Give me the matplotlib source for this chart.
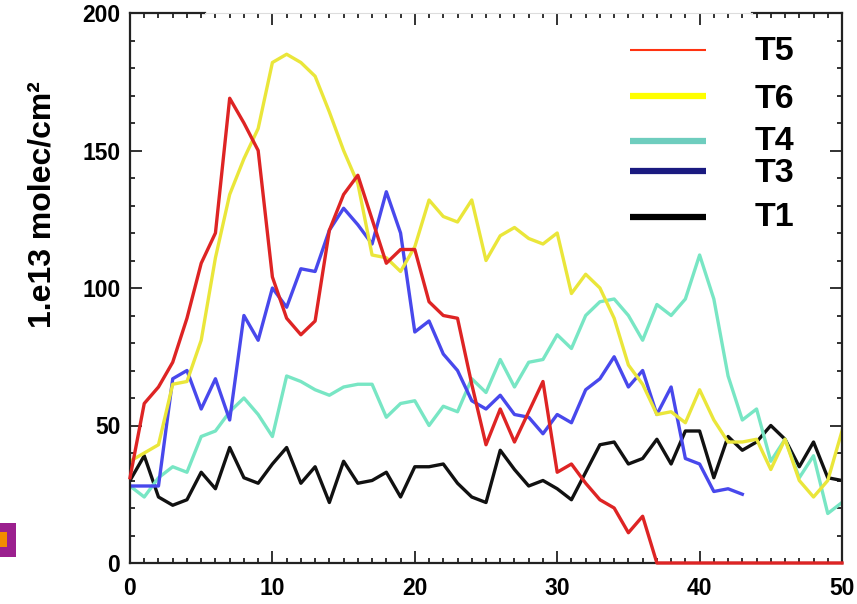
import matplotlib
matplotlib.use("Agg")
import matplotlib.pyplot as plt
from matplotlib.lines import Line2D
from matplotlib.patches import Rectangle
import numpy as np

plt.rcParams['font.family'] = ['Liberation Sans', 'DejaVu Sans']

x = list(range(51))

t5 = [31, 58, 64, 73, 89, 109, 120, 169, 160, 150, 104, 89, 83, 88, 121, 134, 141, 125, 109, 114,
      114, 95, 90, 89, 65, 43, 56, 44, 55, 66, 33, 36, 29, 23, 20, 11, 17, 0, 0, 0,
      0, 0, 0, 0, 0, 0, 0, 0, 0, 0, 0]
t6 = [37, 40, 43, 65, 66, 81, 111, 134, 147, 158, 182, 185, 182, 177, 164, 150, 138, 112, 111, 106,
      115, 132, 126, 124, 132, 110, 119, 122, 118, 116, 120, 98, 105, 100, 89, 72, 65, 54, 55, 51,
      63, 52, 44, 44, 45, 34, 45, 30, 24, 30, 48]
t4 = [28, 24, 31, 35, 33, 46, 48, 55, 60, 54, 46, 68, 66, 63, 61, 64, 65, 65, 53, 58,
      59, 50, 57, 55, 67, 62, 74, 64, 73, 74, 83, 78, 90, 95, 96, 90, 81, 94, 90, 96,
      112, 96, 68, 52, 56, 37, 45, 31, 39, 18, 22]
t3_x = list(range(44))
t3 = [28, 28, 28, 67, 70, 56, 67, 52, 90, 81, 100, 93, 107, 106, 121, 129, 123, 116, 135, 120,
      84, 88, 76, 70, 59, 56, 61, 54, 53, 47, 54, 51, 63, 67, 75, 64, 70, 54, 64, 38,
      36, 26, 27, 25]
t1 = [30, 39, 24, 21, 23, 33, 27, 42, 31, 29, 36, 42, 29, 35, 22, 37, 29, 30, 33, 24,
      35, 35, 36, 29, 24, 22, 41, 34, 28, 30, 27, 23, 33, 43, 44, 36, 38, 45, 36, 48,
      48, 31, 46, 41, 44, 50, 45, 35, 44, 31, 30]

legend_labels = ['T5', 'T6', 'T4', 'T3', 'T1']
ylabel = '1.e13 molec/cm²'
xticks = [0, 10, 20, 30, 40, 50]
yticks = [0, 50, 100, 150, 200]

W, H = 857, 604
fig = plt.figure(figsize=(W / 100, H / 100), dpi=100)
L, R, T, B = 130, 842, 13, 563
ax = fig.add_axes([L / W, (H - B) / H, (R - L) / W, (B - T) / H])

lw = 2.4
ax.plot(x, t1, color='#111111', lw=lw)
ax.plot(x, t4, color='#78E6C4', lw=lw)
ax.plot(t3_x, t3, color='#4848EC', lw=lw)
ax.plot(x, t6, color='#EAE63A', lw=lw)
ax.plot(x, t5, color='#DE2424', lw=lw, clip_on=False, zorder=3)

ax.set_xlim(0, 50)
ax.set_ylim(0, 200)
ax.set_xticks(xticks)
ax.set_yticks(yticks)
ax.set_xticks(np.arange(0, 51, 1), minor=True)
ax.set_yticks(np.arange(0, 201, 10), minor=True)
ax.tick_params(which='both', direction='in', top=True, right=True, width=1.3, color='#222222')
ax.tick_params(which='major', length=8.5)
ax.tick_params(which='minor', length=3.8)
ax.tick_params(axis='y', which='major', pad=7)
ax.tick_params(axis='x', which='major', pad=10)
for lab in ax.get_xticklabels() + ax.get_yticklabels():
    lab.set_fontsize(16.5)
    lab.set_fontweight('bold')

for s in ['left', 'bottom', 'right']:
    ax.spines[s].set_linewidth(1.6)
    ax.spines[s].set_color('#222222')
    ax.spines[s].set_zorder(2.5)
ax.spines['top'].set_visible(False)
x1 = (205 - L) / (R - L)
x2 = (752 - L) / (R - L)
ax.plot([0, x1], [1, 1], transform=ax.transAxes, color='#222222', lw=1.6, clip_on=False)
ax.plot([x2, 1], [1, 1], transform=ax.transAxes, color='#222222', lw=1.6, clip_on=False)
ax.plot([x1, x2], [1, 1], transform=ax.transAxes, color='#dddddd', lw=0.8, clip_on=False)

fig.text(43 / W, 1 - 205 / H, ylabel, rotation=90, ha='center', va='center',
         fontsize=23, fontweight='bold')

# legend
leg_colors = ['#FF3311', '#FFFF00', '#6ECDBE', '#1A1A80', '#000000']
leg_widths = [1.5, 4.5, 4.5, 4.5, 4.5]
leg_line_y = [50, 96, 141, 171, 217]
leg_text_y = [52, 99, 142, 174, 218]
for c, w, ly, ty, lab in zip(leg_colors, leg_widths, leg_line_y, leg_text_y, legend_labels):
    fig.add_artist(Line2D([630 / W, 706 / W], [1 - ly / H, 1 - ly / H], color=c, lw=w,
                          solid_capstyle='butt'))
    fig.text(755 / W, 1 - ty / H, lab, ha='left', va='center', fontsize=24.5,
             fontweight='bold')

# small marker box at lower left
fig.add_artist(Rectangle((0, 1 - 557 / H), 16 / W, 34 / H, transform=fig.transFigure,
                         facecolor='#9B208E', edgecolor='none'))
fig.add_artist(Rectangle((0, 1 - 547 / H), 7 / W, 15 / H, transform=fig.transFigure,
                         facecolor='#F28C00', edgecolor='none'))

fig.savefig('out.png', dpi=100)
